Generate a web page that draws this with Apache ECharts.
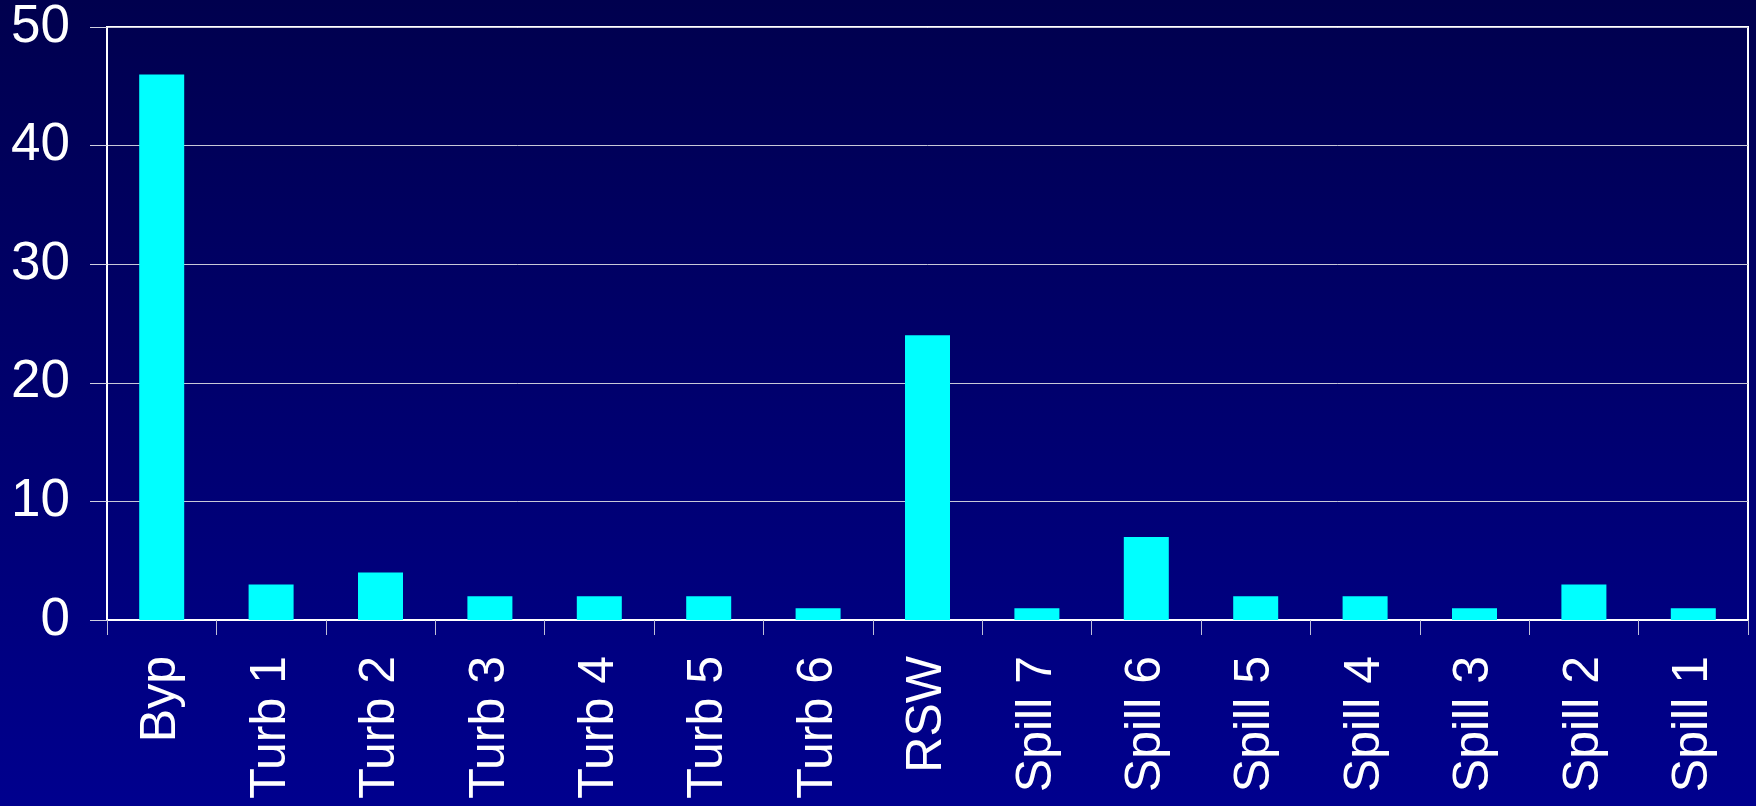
<!DOCTYPE html>
<html>
<head>
<meta charset="utf-8">
<script src="https://cdn.jsdelivr.net/npm/echarts@6/dist/echarts.min.js"></script>
<style>
html,body{margin:0;padding:0;background:#000070;}
#chart{width:1756px;height:806px;}
</style>
</head>
<body>
<div id="chart"></div>
<script>
const categories = ['Byp','Turb 1','Turb 2','Turb 3','Turb 4','Turb 5','Turb 6','RSW','Spill 7','Spill 6','Spill 5','Spill 4','Spill 3','Spill 2','Spill 1'];
const values = [46, 3, 4, 2, 2, 2, 1, 24, 1, 7, 2, 2, 1, 3, 1];
const yTicks = { min: 0, max: 50, interval: 10 };

const chart = echarts.init(document.getElementById('chart'), null, { renderer: 'canvas' });
chart.setOption({
  animation: false,
  backgroundColor: {
    type: 'linear', x: 0, y: 0, x2: 0, y2: 1,
    colorStops: [{ offset: 0, color: '#00004E' }, { offset: 1, color: '#00008E' }]
  },
  textStyle: { fontFamily: 'Liberation Sans, Arial, sans-serif' },
  grid: {
    left: 107, right: 8, top: 27, bottom: 186,
    show: true, borderColor: '#ffffff', borderWidth: 2, backgroundColor: 'transparent'
  },
  xAxis: {
    type: 'category',
    data: categories,
    axisLine: { show: true, lineStyle: { color: '#ffffff', width: 2 } },
    axisTick: { show: true, length: 15, lineStyle: { color: '#c0c0d8', width: 1 } },
    axisLabel: {
      color: '#ffffff', fontSize: 50, rotate: 90, margin: 36,
      fontFamily: 'Liberation Sans, Arial, sans-serif'
    },
    splitLine: { show: false }
  },
  yAxis: {
    type: 'value',
    min: yTicks.min, max: yTicks.max, interval: yTicks.interval,
    axisLine: { show: true, lineStyle: { color: '#ffffff', width: 2 } },
    axisTick: { show: true, length: 17, lineStyle: { color: '#d0d0e0', width: 1 } },
    axisLabel: {
      color: '#ffffff', fontSize: 53, margin: 37,
      fontFamily: 'Liberation Sans, Arial, sans-serif'
    },
    splitLine: { show: true, lineStyle: { color: '#c8c8d8', width: 1 } }
  },
  series: [{
    type: 'bar',
    data: values,
    barWidth: 45,
    itemStyle: { color: '#00FFFF' }
  }]
});
</script>
</body>
</html>
